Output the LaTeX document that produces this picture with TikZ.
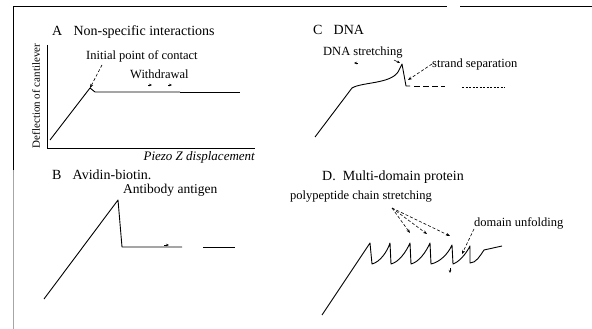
\documentclass[tikz,border=0pt]{standalone}
\usepackage{fontspec}
\setmainfont{Liberation Serif}
\usetikzlibrary{arrows.meta}
\begin{document}
\begin{tikzpicture}[x=1pt,y=-1pt,
  curve/.style={line width=0.9pt,line join=round},
  ttl/.style={font=\fontsize{14}{16}\selectfont,anchor=west,inner sep=0pt},
  lbl/.style={font=\fontsize{12.5}{14}\selectfont,anchor=west,inner sep=0pt},
  pointer/.style={densely dashed,line width=0.6pt,-{Stealth[length=4pt,width=3pt]}},
  smallarr/.style={-{Stealth[length=3pt,width=2.5pt]},line width=0.5pt},
  frame/.style={line width=1pt}]
\useasboundingbox (0,0) rectangle (592,329);
% frame
\coordinate (f1) at (13,329);
\coordinate (f2) at (13,7);
\coordinate (f3) at (592,7);
\draw[frame,gray!70] (f1) -- (13,170);
\draw[frame] (13,170) -- (f2) -- (447,7);
\draw[frame] (460,7) -- (f3);

% ---------- Panel A ----------
\node[ttl] (tA) at (52,32) {A\hspace{0.8em}Non-specific interactions};
\coordinate (ya) at (47,45);
\coordinate (o) at (47,148);
\coordinate (xa) at (255,148);
\draw[line width=1pt] (ya) -- (o) -- (xa);
\node[font=\fontsize{11}{12}\selectfont,rotate=90,inner sep=0pt] (yl) at (36,96) {Deflection of cantilever};
\node[font=\fontsize{13}{14}\selectfont\itshape,anchor=east,inner sep=0pt] (xl) at (255,157) {Piezo Z displacement};
\coordinate (a0) at (50,140);
\coordinate (a1) at (90,88);
\coordinate (a2) at (95,92);
\coordinate (a3) at (180,92);
\coordinate (a4) at (240,92);
\draw[curve] (a0) -- (a1) -- (a2) -- (a3);
\draw[line width=0.7pt] (a3) -- (a4);
\node[lbl] (ip) at (86,56) {Initial point of contact};
\draw[pointer] (ip.south west) ++(16,3) coordinate (ips) -- (a1);
\node[lbl] (wd) at (130,74) {Withdrawal};
\coordinate (w1) at (148,85);
\coordinate (w2) at (168,85);
\draw[smallarr] (w1) -- ++(4,0);
\draw[smallarr] (w2) -- ++(4,0);

% ---------- Panel B ----------
\node[ttl] (tB) at (52,175) {B\hspace{0.8em}Avidin-biotin.};
\node[font=\fontsize{13.5}{15}\selectfont,anchor=west,inner sep=0pt] (ab) at (123,190) {Antibody antigen};
\coordinate (b0) at (44,299);
\coordinate (b1) at (118,200);
\coordinate (b2) at (122,247);
\coordinate (b3) at (182,247);
\coordinate (b4) at (203,247);
\coordinate (b5) at (235,247);
\draw[curve] (b0) -- (b1) -- (b2) -- (b3);
\draw[curve] (b4) -- (b5);
\draw[smallarr] (164,245) -- (169,245);

% ---------- Panel C ----------
\node[ttl] (tC) at (313,30) {C\hspace{0.8em}DNA};
\node[lbl] (ds) at (323,53) {DNA stretching};
\node[lbl] (ss) at (432,64) {strand separation};
\coordinate (c0) at (315,137);
\coordinate (c1) at (352,88);
\coordinate (c2) at (398,72);
\coordinate (c3) at (402,64);
\coordinate (c4) at (406,86);
\coordinate (c5) at (505,87);
\draw[curve] (c0) -- (c1) .. controls (362,82) and (390,84) .. (c2) -- (c3) -- (c4) -- (410,86);
\draw[line width=0.8pt,dash pattern=on 6pt off 3pt] (414,86) -- (445,86);
\draw[line width=0.6pt,dash pattern=on 2pt off 1.5pt] (462,87) -- (c5);
\draw[smallarr] (358,63) -- (354,63);
\draw[smallarr] (394,60) -- (400,63);
\draw[pointer] (ss.west) -- (408,80);

% ---------- Panel D ----------
\node[ttl] (tD) at (322,177) {D.\hspace{0.5em}Multi-domain protein};
\node[lbl] (pc) at (290,197) {polypeptide chain stretching};
\node[lbl] (du) at (474,223) {domain unfolding};
\coordinate (d0) at (322,315);
\coordinate (d1) at (370,243);
\coordinate (p2) at (390,243);
\coordinate (p3) at (410,243);
\coordinate (p4) at (430,243);
\coordinate (p5) at (452,245);
\coordinate (p6) at (470,246);
\coordinate (d9) at (502,246);
\draw[curve] (d0) -- (d1) -- (372,264)
  .. controls (380,262) and (387,252) .. (p2) -- (391,264)
  .. controls (399,262) and (406,252) .. (p3) -- (411,264)
  .. controls (419,262) and (426,252) .. (p4) -- (431,264)
  .. controls (440,262) and (448,254) .. (p5) -- (453,264)
  .. controls (459,262) and (466,254) .. (p6) -- (470,263)
  .. controls (476,263) and (480,256) .. (484,250) -- (d9);
\coordinate (pcs) at (392,208);
\draw[pointer] (pcs) -- (410,233);
\draw[pointer] (pcs) -- (427,234);
\draw[pointer] (pcs) -- (450,236);
\draw[pointer] (du.south west) -- (462,254);
\draw[smallarr] (450,268) -- (450,273);
\end{tikzpicture}
\end{document}
